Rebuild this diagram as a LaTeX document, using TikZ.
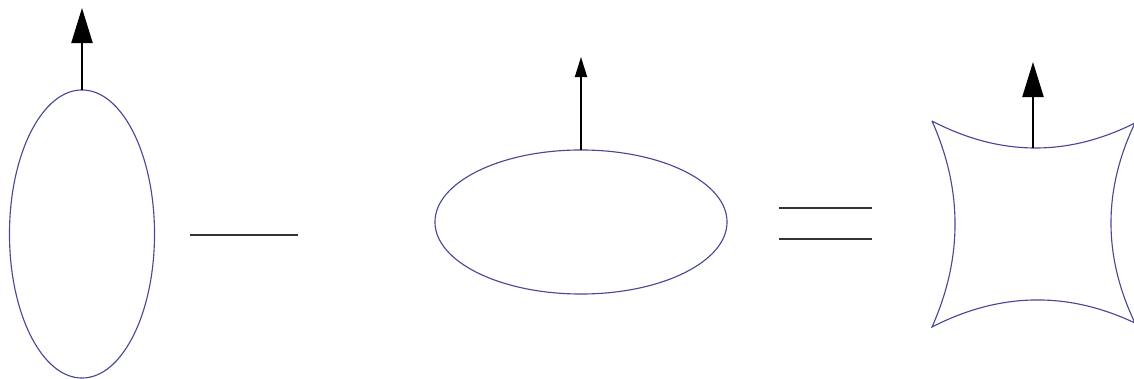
\documentclass[tikz,border=0pt]{standalone}
\usetikzlibrary{shapes.geometric, arrows.meta}
\definecolor{ringblue}{RGB}{72,72,150}

\begin{document}
\begin{tikzpicture}[
    x=0.025cm, y=-0.025cm,
    ring/.style={draw=ringblue, line width=0.8pt, ellipse, inner sep=0pt, outer sep=0pt},
    rimline/.style={draw=ringblue, line width=0.8pt},
    vec/.style={line width=1.6pt, -{Triangle[length=0.875cm, width=0.525cm]}},
    vecsmall/.style={line width=1.3pt, -{Triangle[length=0.5cm, width=0.3cm]}},
    op/.style={line width=1.2pt, black!80}
  ]
    \useasboundingbox (0,0) rectangle (1134,379);
    % tall ellipse
    \node[ring, minimum width=3.625cm, minimum height=7.2cm] (tall) at (82,234) {};
    \coordinate (talltip) at (82,8);
    \draw[vec] (tall.north) -- (talltip);
    % minus
    \coordinate (mina) at (190,235);
    \coordinate (minb) at (298,235);
    \draw[op] (mina) -- (minb);
    % flat ellipse
    \node[ring, minimum width=7.3cm, minimum height=3.6cm] (flat) at (581,222) {};
    \coordinate (flattip) at (581,57);
    \draw[vecsmall] (flat.north) -- (flattip);
    % equals
    \coordinate (eqa) at (779,208);
    \coordinate (eqb) at (872,208);
    \coordinate (eqc) at (779,239);
    \coordinate (eqd) at (872,239);
    \draw[op] (eqa) -- (eqb);
    \draw[op] (eqc) -- (eqd);
    % squeezed shape
    \coordinate (tl) at (932,121);
    \coordinate (tr) at (1135,123);
    \coordinate (br) at (1135,323);
    \coordinate (bl) at (932,327);
    \draw[rimline] (tl) .. controls (999.7,156.3) and (1067.3,157) .. (tr)
      .. controls (1103,189.7) and (1103,256.3) .. (br)
      .. controls (1067.3,291) and (999.7,292.3) .. (bl)
      .. controls (962.7,258.3) and (962.7,189.7) .. (tl);
    \coordinate (topmid) at (1033,148);
    \coordinate (squeezetip) at (1033,62);
    \draw[vec] (topmid) -- (squeezetip);
\end{tikzpicture}
\end{document}
